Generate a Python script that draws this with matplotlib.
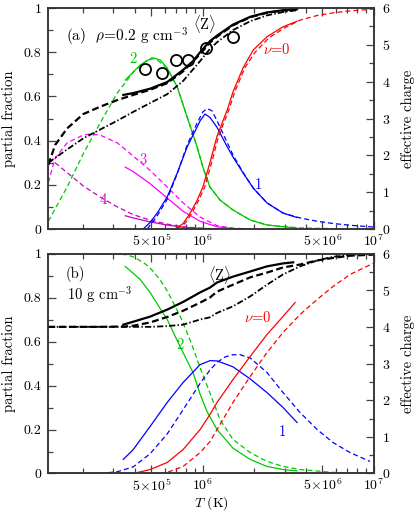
import numpy as np
import matplotlib
matplotlib.use('Agg')
import matplotlib.pyplot as plt
from matplotlib.ticker import FixedLocator, NullFormatter, FixedFormatter, MultipleLocator

plt.rcParams['font.family'] = ['cmr10', 'DejaVu Serif']
plt.rcParams['mathtext.fontset'] = 'cm'
plt.rcParams['axes.formatter.use_mathtext'] = True
plt.rcParams['lines.scale_dashes'] = False
plt.rcParams['font.size'] = 10

E5 = 1e5
# ---------------- panel (a): rho = 0.2 g/cm3 ----------------
a_Zsol_T = np.array([3.43, 3.92, 4.92, 6.19, 7.67, 8.77, 9.64, 11.0, 12.1, 15.0, 18.9, 23.7, 29.4, 35.5]) * E5
a_Zsol = [3.64, 3.69, 3.81, 3.99, 4.32, 4.56, 4.80, 5.10, 5.25, 5.55, 5.76, 5.88, 5.94, 5.97]
a_Zdash_T = np.array([1.25, 1.37, 1.61, 2.0, 2.51, 3.16, 3.92, 4.92, 6.19, 7.67, 9.64, 11.0, 12.1, 15.0, 18.9, 23.7, 29.4, 35.5]) * E5
a_Zdash = [1.74, 2.28, 2.73, 3.12, 3.32, 3.50, 3.64, 3.78, 3.96, 4.28, 4.75, 5.06, 5.22, 5.53, 5.75, 5.87, 5.93, 5.96]
a_Zdd_T = np.array([1.25, 1.61, 2.0, 2.51, 3.16, 3.92, 4.92, 6.19, 7.67, 9.64, 11.0, 12.1, 15.0, 18.9, 23.7, 29.4, 35.5]) * E5
a_Zdd = [1.80, 2.16, 2.46, 2.70, 2.94, 3.18, 3.42, 3.66, 4.02, 4.56, 4.89, 5.07, 5.40, 5.64, 5.80, 5.89, 5.94]
a_circ_T = np.array([4.61, 5.78, 6.98, 8.20, 10.46, 15.0]) * E5
a_circ_Z = [4.34, 4.24, 4.59, 4.59, 4.91, 5.20]

a_g_dash_T = np.array([1.25, 1.61, 2.0, 2.51, 3.16, 3.92, 4.73, 5.27, 6.19, 7.08, 8.09, 9.26, 10.0, 11.0, 12.6, 15.0, 18.9, 23.7, 37.0, 63.0]) * E5
a_g_dash = [0.035, 0.19, 0.34, 0.48, 0.615, 0.71, 0.765, 0.772, 0.728, 0.643, 0.507, 0.371, 0.28, 0.19, 0.131, 0.086, 0.041, 0.018, 0.005, 0.001]
a_g_sol_T = np.array([3.52, 4.30, 5.06, 5.63, 6.19, 7.08, 8.09, 9.26, 10.0, 11.0, 12.6, 15.0, 18.9, 23.7, 35.5]) * E5
a_g_sol = [0.674, 0.742, 0.775, 0.765, 0.728, 0.643, 0.507, 0.371, 0.28, 0.19, 0.131, 0.086, 0.041, 0.018, 0.004]

a_m3_dash_T = np.array([1.25, 1.37, 1.61, 2.0, 2.2, 2.51, 3.16, 3.52, 3.92, 4.92, 6.19, 7.67, 9.64, 12.1, 15.0, 18.9]) * E5
a_m3_dash = [0.21, 0.32, 0.39, 0.425, 0.43, 0.425, 0.39, 0.36, 0.33, 0.265, 0.19, 0.118, 0.054, 0.015, 0.004, 0.0]
a_m3_sol_T = np.array([3.52, 3.92, 4.92, 6.19, 7.67, 9.64, 12.1, 15.0, 18.9]) * E5
a_m3_sol = [0.28, 0.26, 0.205, 0.14, 0.08, 0.035, 0.01, 0.002, 0.0]
a_m4_dash_T = np.array([1.25, 1.32, 1.61, 2.0, 2.51, 3.16, 3.92, 4.92, 6.19, 7.67, 9.64, 12.1]) * E5
a_m4_dash = [0.30, 0.31, 0.255, 0.195, 0.145, 0.10, 0.065, 0.04, 0.022, 0.01, 0.004, 0.0]
a_m4_sol_T = np.array([3.52, 3.92, 4.92, 6.19, 7.67, 9.64, 12.1]) * E5
a_m4_sol = [0.06, 0.05, 0.032, 0.018, 0.008, 0.003, 0.0]

a_b_sol_T = np.array([4.48, 4.92, 5.41, 6.19, 7.08, 8.09, 9.26, 9.64, 10.3, 11.0, 12.1, 13.9, 15.0, 17.2, 19.7, 23.7, 29.4, 35.5]) * E5
a_b_sol = [0.0, 0.03, 0.072, 0.145, 0.253, 0.371, 0.462, 0.49, 0.52, 0.505, 0.46, 0.371, 0.326, 0.253, 0.185, 0.118, 0.072, 0.052]
a_b_dash_T = np.array([4.73, 5.41, 6.19, 7.08, 8.09, 9.26, 10.0, 10.6, 11.3, 12.1, 13.9, 15.0, 17.2, 19.7, 23.7, 29.4, 37.0, 46.5, 57.6, 72.5, 98.7]) * E5
a_b_dash = [0.0, 0.06, 0.135, 0.25, 0.38, 0.48, 0.53, 0.545, 0.535, 0.49, 0.39, 0.335, 0.255, 0.185, 0.118, 0.072, 0.05, 0.035, 0.025, 0.017, 0.009]

a_r_sol_T = np.array([6.89, 7.67, 8.43, 9.26, 10.0, 11.0, 12.1, 13.9, 15.0, 17.2, 19.7, 23.7, 29.4, 35.5]) * E5
a_r_sol = [0.0, 0.025, 0.072, 0.13, 0.19, 0.30, 0.42, 0.54, 0.62, 0.73, 0.81, 0.87, 0.915, 0.94]
a_r_dash_T = np.array([7.05, 7.85, 8.6, 9.45, 10.25, 11.25, 12.35, 14.2, 15.35, 17.6, 20.2, 24.3, 30.0, 37.0, 46.5, 57.6, 72.5, 98.7]) * E5
a_r_dash = [0.0, 0.025, 0.07, 0.13, 0.19, 0.30, 0.42, 0.54, 0.62, 0.73, 0.80, 0.865, 0.91, 0.945, 0.966, 0.978, 0.987, 0.995]

# ---------------- panel (b): rho = 10 g/cm3 ----------------
b_Zsol_T = np.array([3.43, 3.92, 4.92, 6.19, 7.67, 9.64, 11.0, 12.1, 15.0, 18.9, 23.7, 29.4, 33.7]) * E5
b_Zsol = [4.06, 4.14, 4.28, 4.47, 4.68, 4.94, 5.07, 5.21, 5.37, 5.51, 5.65, 5.73, 5.76]
b_Zdash_T = np.array([1.25, 2.51, 3.52, 3.92, 4.92, 6.19, 7.67, 9.64, 11.0, 12.1, 15.0, 18.9, 23.7, 29.4, 37.0, 46.5, 57.6, 72.5, 98.7]) * E5
b_Zdash = [4.0, 4.0, 4.01, 4.03, 4.12, 4.27, 4.44, 4.66, 4.80, 4.96, 5.15, 5.35, 5.48, 5.62, 5.70, 5.81, 5.88, 5.94, 5.97]
b_Zdd_T = np.array([1.25, 4.92, 6.19, 7.67, 9.64, 11.0, 12.1, 15.0, 18.9, 23.7, 29.4, 37.0, 46.5, 57.6, 75.4, 98.7]) * E5
b_Zdd = [4.0, 4.0, 4.02, 4.06, 4.20, 4.26, 4.38, 4.56, 4.83, 5.15, 5.43, 5.65, 5.81, 5.91, 5.97, 5.99]

b_g_dash_T = np.array([2.42, 3.16, 3.52, 3.92, 4.48, 4.92, 5.63, 6.19, 6.89, 7.67, 8.77, 9.64, 10.7, 12.6, 15.0, 18.9, 23.7, 29.4, 37.0, 57.6, 98.7]) * E5
b_g_dash = [0.997, 0.997, 0.995, 0.985, 0.96, 0.935, 0.88, 0.83, 0.76, 0.686, 0.57, 0.48, 0.39, 0.245, 0.155, 0.095, 0.055, 0.032, 0.018, 0.005, 0.001]
b_g_sol_T = np.array([3.52, 3.92, 4.30, 4.92, 5.63, 6.19, 7.36, 8.77, 9.64, 10.6, 12.1, 15.0, 18.9, 23.7, 29.4, 35.5]) * E5
b_g_sol = [0.941, 0.91, 0.882, 0.823, 0.75, 0.70, 0.577, 0.458, 0.36, 0.28, 0.2, 0.115, 0.064, 0.032, 0.018, 0.012]

b_b_sol_T = np.array([3.43, 3.92, 4.92, 6.19, 7.67, 9.64, 11.0, 12.1, 15.0, 18.9, 23.7, 29.4, 35.5]) * E5
b_b_sol = [0.064, 0.109, 0.214, 0.323, 0.414, 0.495, 0.513, 0.512, 0.485, 0.43, 0.368, 0.30, 0.232]
b_b_dash_T = np.array([2.51, 3.16, 3.92, 4.92, 6.19, 7.67, 9.64, 11.0, 12.1, 13.5, 15.0, 16.5, 18.9, 23.7, 29.4, 37.0, 46.5, 57.6, 72.5, 94.8]) * E5
b_b_dash = [0.0, 0.008, 0.03, 0.09, 0.18, 0.29, 0.41, 0.47, 0.505, 0.53, 0.54, 0.54, 0.525, 0.459, 0.368, 0.277, 0.20, 0.141, 0.095, 0.055]

b_r_sol_T = np.array([3.92, 4.92, 6.19, 7.67, 9.64, 11.0, 12.1, 15.0, 18.9, 23.7, 29.4, 34.6]) * E5
b_r_sol = [0.0, 0.018, 0.05, 0.109, 0.20, 0.268, 0.323, 0.427, 0.532, 0.632, 0.714, 0.777]
b_r_dash_T = np.array([5.63, 6.19, 7.67, 9.64, 11.0, 12.1, 15.0, 18.9, 23.7, 29.4, 37.0, 46.5, 57.6, 72.5, 98.7]) * E5
b_r_dash = [0.0, 0.005, 0.032, 0.095, 0.145, 0.2, 0.323, 0.441, 0.55, 0.641, 0.723, 0.791, 0.85, 0.905, 0.955]

xmajor = [5e5, 1e6, 5e6, 1e7]
xmajor_labels = [r'$5\!\times\!10^5$', r'$10^6$', r'$5\!\times\!10^6$', r'$10^7$']
xminor = [2e5, 3e5, 4e5, 6e5, 7e5, 8e5, 9e5, 2e6, 3e6, 4e6, 6e6, 7e6, 8e6, 9e6]
yleft_labels = ['0', '0.2', '0.4', '0.6', '0.8', '1']

GREEN = '#00c800'
BLUE = '#0000ff'
RED = '#ff0000'
MAG3 = '#ff00ff'
MAG4 = '#c800c8'
DASH_C = (0, (3.6, 2.2))
DASH_K = (0, (5.0, 2.5))
DASHDOT_K = (0, (4.5, 1.6, 1.0, 1.6))
LWC = 0.9
LWK = 1.6

fig = plt.figure(figsize=(4.15, 5.13), dpi=100)
axa = fig.add_axes([0.1164, 0.5536, 0.7848, 0.4308])
axb = fig.add_axes([0.1164, 0.0770, 0.7848, 0.4288])


def style(ax, axr):
    ax.set_xscale('log')
    ax.set_xlim(1.25e5, 1e7)
    ax.set_ylim(0, 1)
    axr.set_ylim(0, 6)
    ax.xaxis.set_major_locator(FixedLocator(xmajor))
    ax.xaxis.set_major_formatter(FixedFormatter(xmajor_labels))
    ax.xaxis.set_minor_locator(FixedLocator(xminor))
    ax.xaxis.set_minor_formatter(NullFormatter())
    ax.set_yticks([0, 0.2, 0.4, 0.6, 0.8, 1.0])
    ax.set_yticklabels(yleft_labels)
    ax.yaxis.set_minor_locator(MultipleLocator(0.1))
    axr.yaxis.set_major_locator(MultipleLocator(1))
    axr.yaxis.set_minor_locator(MultipleLocator(0.5))
    ax.tick_params(which='both', direction='in', top=True, right=False, color='#444444', labelsize=10)
    ax.tick_params(which='major', length=6, width=0.9)
    ax.tick_params(which='minor', length=3.5, width=0.9)
    ax.tick_params(axis='x', pad=3)
    ax.tick_params(axis='y', pad=5)
    axr.tick_params(which='both', direction='in', left=False, right=True, color='#444444', labelsize=10, pad=6)
    axr.tick_params(which='major', length=6, width=0.9)
    axr.tick_params(which='minor', length=3.5, width=0.9)
    for s in list(ax.spines.values()) + list(axr.spines.values()):
        s.set_linewidth(1.1)
        s.set_color('#333333')
    ax.set_ylabel('partial fraction', fontsize=10.5)
    ax.yaxis.set_label_coords(-0.098, 0.5)
    axr.set_ylabel('effective charge', fontsize=10.5)
    axr.yaxis.set_label_coords(1.082, 0.5)


# ---- panel a ----
axar = axa.twinx()
style(axa, axar)
axa.plot(a_g_dash_T, a_g_dash, color=GREEN, lw=LWC, ls=DASH_C)
axa.plot(a_g_sol_T, a_g_sol, color=GREEN, lw=LWC)
axa.plot(a_m3_dash_T, a_m3_dash, color=MAG3, lw=LWC, ls=DASH_C)
axa.plot(a_m3_sol_T, a_m3_sol, color=MAG3, lw=LWC)
axa.plot(a_m4_dash_T, a_m4_dash, color=MAG4, lw=LWC, ls=DASH_C)
axa.plot(a_m4_sol_T, a_m4_sol, color=MAG4, lw=LWC)
axa.plot(a_b_dash_T, a_b_dash, color=BLUE, lw=LWC, ls=DASH_C)
axa.plot(a_b_sol_T, a_b_sol, color=BLUE, lw=LWC)
axa.plot(a_r_dash_T, a_r_dash, color=RED, lw=LWC, ls=DASH_C)
axa.plot(a_r_sol_T, a_r_sol, color=RED, lw=LWC)
axar.plot(a_Zdash_T, a_Zdash, color='k', lw=LWK, ls=DASH_K)
axar.plot(a_Zdd_T, a_Zdd, color='k', lw=1.3, ls=DASHDOT_K)
axar.plot(a_Zsol_T, a_Zsol, color='k', lw=LWK)
axar.plot(a_circ_T, a_circ_Z, ls='none', marker='o', ms=8, mfc='none', mec='k', mew=1.3)

axa.text(0.054, 0.868, r'(a)  $\rho$=0.2 g cm$^{-3}$', transform=axa.transAxes, va='center', ha='left', fontsize=11)
axa.text(0.48, 0.928, r'$\langle\mathrm{Z}\rangle$', transform=axa.transAxes, va='center', ha='center', fontsize=10.5)
axa.text(0.26, 0.769, '2', transform=axa.transAxes, va='center', ha='center', color=GREEN, fontsize=10.5)
axa.text(0.291, 0.312, '3', transform=axa.transAxes, va='center', ha='center', color=MAG3, fontsize=10.5)
axa.text(0.168, 0.131, '4', transform=axa.transAxes, va='center', ha='center', color=MAG4, fontsize=10.5)
axa.text(0.70, 0.814, r'$\nu$=0', transform=axa.transAxes, va='center', ha='center', color=RED, fontsize=10.5)
axa.text(0.644, 0.199, '1', transform=axa.transAxes, va='center', ha='center', color=BLUE, fontsize=10.5)

# ---- panel b ----
axbr = axb.twinx()
style(axb, axbr)
axb.plot(b_g_dash_T, b_g_dash, color=GREEN, lw=LWC, ls=DASH_C)
axb.plot(b_g_sol_T, b_g_sol, color=GREEN, lw=LWC)
axb.plot(b_b_dash_T, b_b_dash, color=BLUE, lw=LWC, ls=DASH_C)
axb.plot(b_b_sol_T, b_b_sol, color=BLUE, lw=LWC)
axb.plot(b_r_dash_T, b_r_dash, color=RED, lw=LWC, ls=DASH_C)
axb.plot(b_r_sol_T, b_r_sol, color=RED, lw=LWC)
axbr.plot(b_Zdash_T, b_Zdash, color='k', lw=LWK, ls=DASH_K)
axbr.plot(b_Zdd_T, b_Zdd, color='k', lw=1.3, ls=DASHDOT_K)
axbr.plot(b_Zsol_T, b_Zsol, color='k', lw=LWK)

axb.text(0.054, 0.905, '(b)', transform=axb.transAxes, va='center', ha='left', fontsize=10.5)
axb.text(0.057, 0.812, r'10 g cm$^{-3}$', transform=axb.transAxes, va='center', ha='left', fontsize=10.5)
axb.text(0.527, 0.902, r'$\langle\mathrm{Z}\rangle$', transform=axb.transAxes, va='center', ha='center', fontsize=10.5)
axb.text(0.404, 0.584, '2', transform=axb.transAxes, va='center', ha='center', color=GREEN, fontsize=10.5)
axb.text(0.644, 0.711, r'$\nu$=0', transform=axb.transAxes, va='center', ha='center', color=RED, fontsize=10.5)
axb.text(0.72, 0.189, '1', transform=axb.transAxes, va='center', ha='center', color=BLUE, fontsize=10.5)
axb.set_xlabel(r'$T$ (K)', fontsize=10, va='center')
axb.xaxis.set_label_coords(0.5, -0.136)

fig.savefig('out.png', dpi=100)
